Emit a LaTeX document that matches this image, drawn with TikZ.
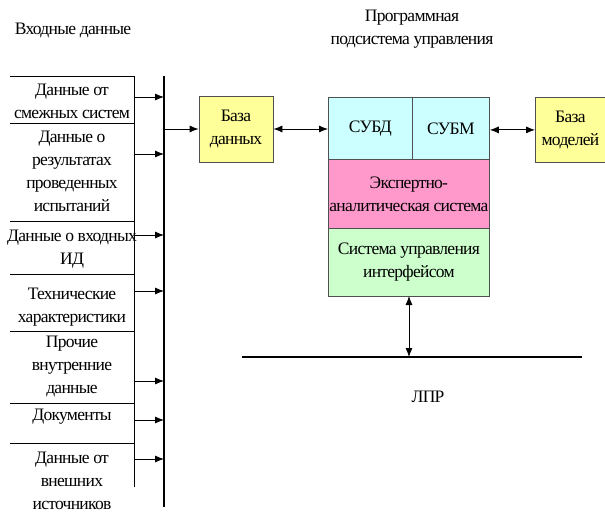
\documentclass[tikz,border=0pt]{standalone}
\usepackage{fontspec}
\setmainfont[LetterSpace=-4]{Liberation Serif}
\usetikzlibrary{arrows.meta}
\definecolor{cyanf}{HTML}{CCFFFF}
\definecolor{pinkf}{HTML}{FF99CC}
\definecolor{greenf}{HTML}{CCFFCC}
\definecolor{yellowf}{HTML}{FFFF99}
\definecolor{edge}{HTML}{505050}
\begin{document}
\begin{tikzpicture}[x=1pt,y=-1pt,
  txt/.style={font=\fontsize{17.5}{23}\selectfont,align=center,inner sep=0pt},
  boxs/.style={draw=edge,line width=0.8pt,txt},
  arr/.style={-{Latex[length=9pt,width=7pt]},line width=0.8pt},
  darr/.style={{Latex[length=9pt,width=7pt]}-{Latex[length=9pt,width=7pt]},line width=0.8pt}]
\useasboundingbox (0,0) rectangle (605,513);
% titles
\node[txt] (tin) at (73,30) {Входные данные};
\node[txt] (tps) at (412,29) {Программная\\подсистема управления};
% left table
\foreach \yy in {76,123,221,274,331,403,443} \draw[line width=0.6pt] (10,\yy) -- (134,\yy);
\coordinate (ct) at (134,76); \coordinate (cb) at (134,487);
\draw[line width=0.6pt] (ct) -- (cb);
\coordinate (bt) at (164,76); \coordinate (bb) at (164,507);
\draw[line width=2.2pt] (bt) -- (bb);
\node[txt] (i1) at (72,101) {Данные от\\смежных систем};
\node[txt] (i2) at (72,171) {Данные о\\результатах\\проведенных\\испытаний};
\node[txt] (i3) at (72,249) {Данные о входных\\ИД};
\node[txt] (i4) at (72,307) {Технические\\характеристики};
\node[txt] (i5) at (72,366) {Прочие\\внутренние\\данные};
\node[txt] (i6) at (72,417) {Документы};
\node[txt] (i7) at (72,481) {Данные от\\внешних\\источников};
\foreach \n/\yy in {1/97,2/154,3/235,4/291,5/381,6/420,7/459}{
  \coordinate (s\n) at (134,\yy); \coordinate (e\n) at (164,\yy);
  \draw[arr] (s\n) -- (e\n);}
% boxes
\node[boxs,fill=yellowf,minimum width=74pt,minimum height=66pt] (bd) at (236,129) {База\\данных};
\node[boxs,fill=yellowf,minimum width=70pt,minimum height=65pt,anchor=north west] (bm) at (535,97) {База\\моделей};
\node[boxs,fill=cyanf,minimum width=84pt,minimum height=62pt,anchor=north west] (subd) at (328,97) {СУБД};
\node[boxs,fill=cyanf,minimum width=77pt,minimum height=62pt,anchor=north west] (subm) at (412,97) {СУБМ};
\node[boxs,fill=pinkf,minimum width=161pt,minimum height=69pt,anchor=north west] (eas) at (328,159) {Экспертно-\\аналитическая система};
\node[boxs,fill=greenf,minimum width=161pt,minimum height=68pt,anchor=north west] (sui) at (328,228) {Система управления\\интерфейсом};
% connectors
\coordinate (bj) at (164,129);
\draw[arr] (bj) -- (bd.west);
\draw[darr] (bd.east) -- (subd.west|-bd.east);
\draw[darr] (subm.east|-bm.west) -- (bm.west);
\coordinate (lt) at (409,296); \coordinate (lb) at (409,357);
\draw[darr] (lt) -- (lb);
\coordinate (hl) at (242,357); \coordinate (hr) at (582,357);
\draw[line width=2.2pt] (hl) -- (hr);
\node[txt] (lpr) at (428,397) {ЛПР};
\end{tikzpicture}
\end{document}
